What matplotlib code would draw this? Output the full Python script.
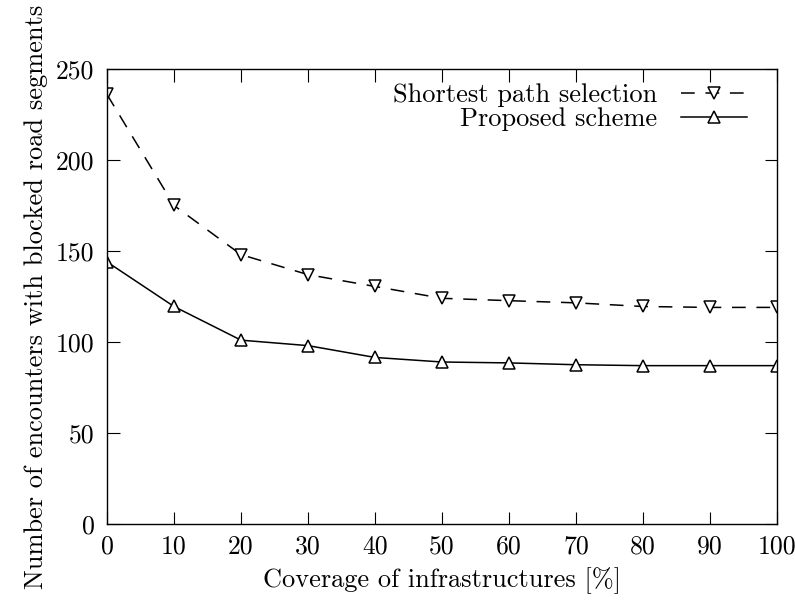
import matplotlib

matplotlib.use("Agg")
import matplotlib.pyplot as plt

plt.rcParams["font.family"] = ["cmr10", "DejaVu Serif"]
plt.rcParams["axes.unicode_minus"] = False
plt.rcParams["mathtext.fontset"] = "cm"

coverage = [0, 10, 20, 30, 40, 50, 60, 70, 80, 90, 100]
shortest_path = [236, 175, 148, 137, 130.5, 124, 122.7, 121.5, 119.5, 119, 119]
proposed = [144, 119.5, 101, 98, 91.5, 89, 88.5, 87.5, 87, 87, 87]

fig = plt.figure(figsize=(7.95, 6.02), dpi=100)
ax = fig.add_axes([0.1346, 0.1296, 0.8428, 0.7558])

ax.plot(coverage, shortest_path, color="black", linestyle=(0, (9, 7)), linewidth=1.1,
        marker="v", markersize=8.5, markerfacecolor="white", markeredgewidth=1.1,
        label="Shortest path selection")
ax.plot(coverage, proposed, color="black", linestyle="-", linewidth=1.1,
        marker="^", markersize=8.5, markerfacecolor="white", markeredgewidth=1.1,
        label="Proposed scheme")

ax.set_xlim(0, 100)
ax.set_ylim(0, 250)
ax.set_xticks(range(0, 101, 10))
ax.set_yticks(range(0, 251, 50))
ax.tick_params(direction="in", length=9, width=0.8, top=True, right=True,
               labelsize=18.5)
ax.tick_params(axis="x", pad=8)
ax.tick_params(axis="y", pad=9)
for s in ax.spines.values():
    s.set_linewidth(1.0)

ax.set_xlabel("Coverage of infrastructures [%]", fontsize=19, labelpad=6)
ax.set_ylabel("Number of encounters with blocked road segments", fontsize=19, labelpad=6)

ax.legend(loc="upper right", frameon=False, markerfirst=False, fontsize=19,
          handlelength=2.5, handletextpad=0.9, borderaxespad=0.0, borderpad=0.0,
          labelspacing=0.0, bbox_to_anchor=(0.955, 0.968))

fig.savefig("out.png", dpi=100)
